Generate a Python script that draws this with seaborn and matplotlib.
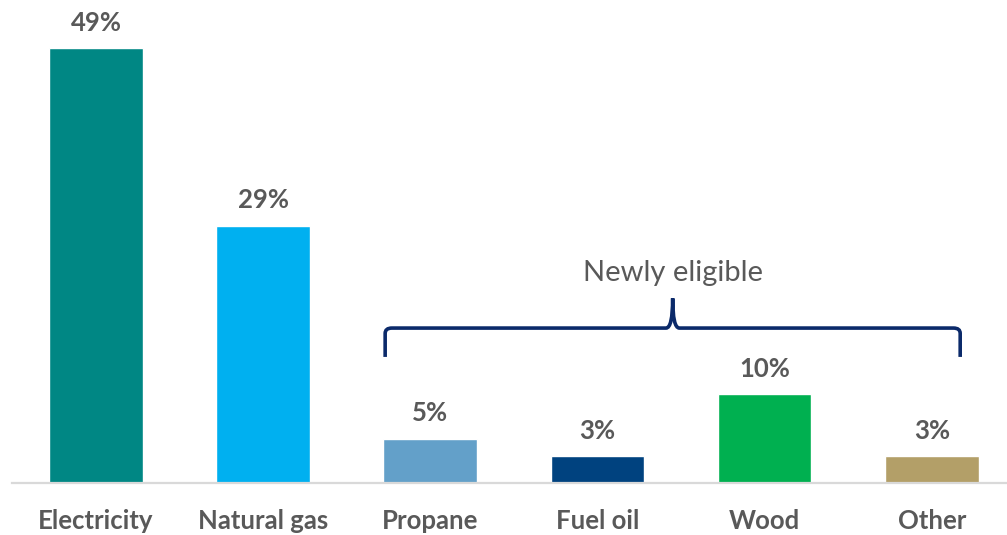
import matplotlib
matplotlib.use("Agg")
import matplotlib.pyplot as plt
import seaborn as sns
import pandas as pd
from matplotlib.path import Path
from matplotlib.patches import PathPatch

categories = ["Electricity", "Natural gas", "Propane", "Fuel oil", "Wood", "Other"]
values = [49, 29, 5, 3, 10, 3]
labels = ["49%", "29%", "5%", "3%", "10%", "3%"]
colors = ["#008784", "#00B0F0", "#63A0C9", "#00427F", "#00B050", "#B39F68"]
bracket_text = "Newly eligible"

sns.set_theme(style="white")
plt.rcParams["font.family"] = ["Lato", "DejaVu Sans"]

df = pd.DataFrame({"cat": categories, "val": values})
fig = plt.figure(figsize=(10.07, 5.35), dpi=100)
ax = fig.add_axes([0.0123, 0.0972, 0.9877, 0.9028])
sns.barplot(data=df, x="cat", y="val", hue="cat", palette=colors, width=0.56,
            legend=False, ax=ax, saturation=1)
ax.set_xlim(-0.5, 5.45)
ax.set_ylim(0, 54.4)
ax.set_xlabel("")
ax.set_ylabel("")
ax.set_yticks([])
for s in ["top", "right", "left"]:
    ax.spines[s].set_visible(False)
ax.spines["bottom"].set_color("#D9D9D9")
ax.spines["bottom"].set_linewidth(1.6)
ax.tick_params(axis="x", length=0, pad=18.5)
for t in ax.get_xticklabels():
    t.set_fontsize(18.5)
    t.set_fontweight("bold")
    t.set_color("#595959")

for i, (v, lab) in enumerate(zip(values, labels)):
    ax.text(i, v + 1.5, lab, ha="center", va="bottom", fontsize=18.5,
            fontweight="bold", color="#595959")

# bracket spanning Propane..Other
x0, x1 = 1.73, 5.17
xm = (x0 + x1) / 2
yb, yh, yp = 14.2, 17.45, 20.8
r = 0.04
verts = [(x0, yb), (x0, yh - 0.6), (x0, yh), (x0 + r, yh),
         (xm - r, yh), (xm, yh), (xm, yp),
         (xm, yh), (xm + r, yh),
         (x1 - r, yh), (x1, yh), (x1, yh - 0.6), (x1, yb)]
codes = [Path.MOVETO, Path.LINETO, Path.CURVE3, Path.CURVE3,
         Path.LINETO, Path.CURVE3, Path.CURVE3,
         Path.CURVE3, Path.CURVE3,
         Path.LINETO, Path.CURVE3, Path.CURVE3, Path.LINETO]
ax.add_patch(PathPatch(Path(verts, codes), fill=False, edgecolor="#0B2A6A", linewidth=2.6))
ax.text(xm, 23.6, bracket_text, ha="center", va="center", fontsize=21, color="#595959")

fig.savefig("out.png", dpi=100)
